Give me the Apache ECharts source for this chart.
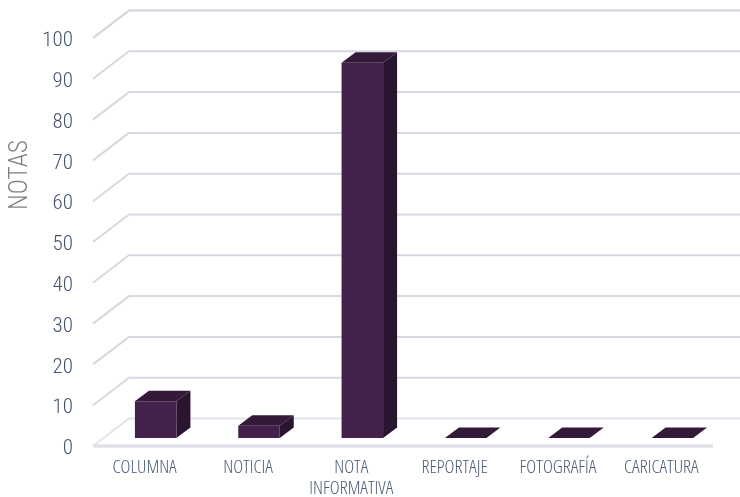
<!DOCTYPE html>
<html><head><meta charset="utf-8">
<style>html,body{margin:0;padding:0;background:#fff}#c{width:740px;height:497px}</style>
<script src="https://cdn.jsdelivr.net/npm/echarts@6/dist/echarts.min.js"></script>
</head><body><div id="c"></div>
<script>
var categories = ['COLUMNA','NOTICIA','NOTA\nINFORMATIVA','REPORTAJE','FOTOGRAFÍA','CARICATURA'];
var notas = [9,3,92,0,0,0];
var yTicks = [0,10,20,30,40,50,60,70,80,90,100];

var WALL_DX = 36, WALL_DY = -27.5, BAR_DX = 14, BAR_DY = -10.5, BAR_SHIFT_X = 11, BAR_SHIFT_Y = -8, BAR_W = 41.5;
var FRONT = '#42214a', TOP = '#321a38', SIDE = '#2a1530';

var chart = echarts.init(document.getElementById('c'), null, {renderer:'canvas'});
chart.setOption({
  animation:false,
  backgroundColor:'#fff',
  grid:{left:93,top:38,width:620,height:408,containLabel:false,outerBoundsMode:'none'},
  xAxis:{type:'category',data:categories,
    axisLine:{show:false},axisTick:{show:false},
    axisLabel:{interval:0,margin:11.5,fontFamily:'"Open Sans",sans-serif',fontWeight:'condensed 300',fontSize:18.8,lineHeight:20.5,color:'#4a5b74'}},
  yAxis:{type:'value',min:0,max:100,interval:10,
    axisLine:{show:false},axisTick:{show:false},splitLine:{show:false},
    axisLabel:{margin:20,verticalAlign:'top',lineHeight:6,fontFamily:'Roboto,sans-serif',fontWeight:'condensed 300',fontSize:21,color:'#44546e'}},
  graphic:[{type:'text',left:8,top:140,rotation:Math.PI/2,
    style:{text:'NOTAS',fontFamily:'Roboto,sans-serif',fontWeight:'condensed 300',fontSize:25.5,fill:'#808080'}}],
  series:[
    {type:'custom',clip:false,silent:true,z:1,
     coordinateSystem:'cartesian2d',
     data:yTicks.map(function(v){return [0,v];}),
     renderItem:function(params,api){
       var p=api.coord([0,api.value(1)]);
       var cs=params.coordSys;
       var x0=cs.x,x1=cs.x+cs.width,y=p[1],v=api.value(1);
       var col=v===100?'#cfd2da':(v===0?'#e1e4ec':'#d6d9e1');
       var children=[
         {type:'polyline',shape:{points:[[x0,y],[x0+WALL_DX,y+WALL_DY],[x1+WALL_DX,y+WALL_DY]]},
          style:{stroke:col,lineWidth:2,fill:null,lineJoin:'round'}}
       ];
       if(v===0){children.push({type:'line',shape:{x1:x0,y1:y,x2:x1,y2:y},style:{stroke:'#dfe2e7',lineWidth:3.5}});}
       return {type:'group',children:children};
     }},
    {type:'custom',clip:false,z:2,
     coordinateSystem:'cartesian2d',
     data:notas.map(function(v,i){return [i,v];}),
     renderItem:function(params,api){
       var top=api.coord([api.value(0),api.value(1)]);
       var base=api.coord([api.value(0),0]);
       var l=top[0]+BAR_SHIFT_X-BAR_W/2, r=l+BAR_W;
       var b=base[1]+BAR_SHIFT_Y, t=top[1]+BAR_SHIFT_Y;
       return {type:'group',children:[
         {type:'polygon',shape:{points:[[r,t],[r+BAR_DX,t+BAR_DY],[r+BAR_DX,b+BAR_DY],[r,b]]},style:{fill:SIDE}},
         {type:'polygon',shape:{points:[[l,t],[l+BAR_DX,t+BAR_DY],[r+BAR_DX,t+BAR_DY],[r,t]]},style:{fill:TOP}},
         {type:'rect',shape:{x:l,y:t,width:BAR_W,height:b-t},style:{fill:FRONT}}
       ]};
     }}
  ]
});
</script></body></html>
